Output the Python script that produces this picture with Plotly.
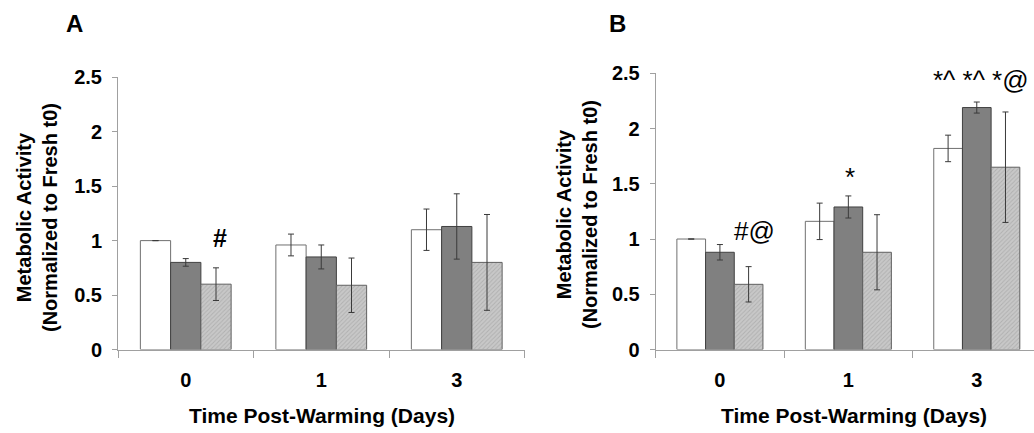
import plotly.graph_objects as go

# ---- data ----
days = ["0", "1", "3"]

a_white = [1.00, 0.96, 1.10]
a_white_err = [0.0, 0.10, 0.19]
a_dark = [0.80, 0.85, 1.13]
a_dark_err = [0.035, 0.11, 0.30]
a_light = [0.60, 0.59, 0.80]
a_light_err = [0.15, 0.25, 0.44]

b_white = [1.00, 1.16, 1.82]
b_white_err = [0.0, 0.165, 0.12]
b_dark = [0.88, 1.29, 2.19]
b_dark_err = [0.07, 0.10, 0.05]
b_light = [0.59, 0.88, 1.65]
b_light_err = [0.16, 0.34, 0.50]

y_ticks = [0, 0.5, 1, 1.5, 2, 2.5]
y_ticktext = ["0", "0.5", "1", "1.5", "2", "2.5"]

FONT = "Liberation Sans, Arial, sans-serif"
W, H = 1034, 433

def px_x(p):
    return p / W

def px_y(p):
    return 1 - p / H

err_style = dict(type="data", color="#3a3a3a", thickness=1, width=3, visible=True)

def add_panel(fig, xa, ya, white, we, dark, de, light, le):
    fig.add_trace(go.Bar(x=days, y=white, xaxis=xa, yaxis=ya,
                         marker=dict(color="white", line=dict(color="#707070", width=1)),
                         error_y=dict(array=we, **err_style), showlegend=False))
    fig.add_trace(go.Bar(x=days, y=dark, xaxis=xa, yaxis=ya,
                         marker=dict(color="#808080", line=dict(color="#404040", width=1)),
                         error_y=dict(array=de, **err_style), showlegend=False))
    fig.add_trace(go.Bar(x=days, y=light, xaxis=xa, yaxis=ya,
                         marker=dict(color="#c4c4c4", line=dict(color="#606060", width=1),
                                     pattern=dict(shape="/", bgcolor="#c8c8c8", fgcolor="#b0b0b0",
                                                  size=3, solidity=0.3)),
                         error_y=dict(array=le, **err_style), showlegend=False))

fig = go.Figure()
add_panel(fig, "x", "y", a_white, a_white_err, a_dark, a_dark_err, a_light, a_light_err)
add_panel(fig, "x2", "y2", b_white, b_white_err, b_dark, b_dark_err, b_light, b_light_err)

tickfont = dict(family=FONT, size=20, color="black", weight="bold")
xcommon = dict(type="category", showline=True, linecolor="#a0a0a0", linewidth=1,
               ticks="outside", ticklen=7, tickcolor="#a0a0a0", tickwidth=1,
               tickson="boundaries", showgrid=False, zeroline=False, automargin=False,
               tickfont=tickfont, ticklabelstandoff=12)
ycommon = dict(range=[0, 2.5], showline=True, linecolor="#a0a0a0", linewidth=1,
               ticks="outside", ticklen=5, tickcolor="#a0a0a0", tickwidth=1,
               tickvals=y_ticks, ticktext=y_ticktext, showgrid=False, zeroline=False,
               automargin=False, tickfont=tickfont, ticklabelstandoff=6)

fig.update_layout(
    template="none",
    font=dict(family=FONT, color="black"),
    width=W, height=H, autosize=False,
    margin=dict(l=0, r=0, t=0, b=0, pad=0, autoexpand=False),
    paper_bgcolor="white", plot_bgcolor="white",
    barmode="group", bargap=0.33, bargroupgap=0,
    showlegend=False,
    xaxis=dict(domain=[px_x(118), px_x(524.5)], range=[-0.5, 2.5], anchor="y", **xcommon),
    yaxis=dict(domain=[px_y(349.5), px_y(77.3)], anchor="x", **ycommon),
    xaxis2=dict(domain=[px_x(655.7), 1.0], range=[-0.5, 2.4455], anchor="y2", **xcommon),
    yaxis2=dict(domain=[px_y(349.5), px_y(73.3)], anchor="x2", **ycommon),
)

title_font = dict(family=FONT, size=20, color="black", weight="bold")
center = dict(xanchor="center", yanchor="middle", showarrow=False)
ann = []
# panel letters
ann.append(dict(text="A", x=px_x(74), y=px_y(23), xref="paper", yref="paper",
                font=dict(family=FONT, size=24, color="black", weight="bold"), **center))
ann.append(dict(text="B", x=px_x(617), y=px_y(23), xref="paper", yref="paper",
                font=dict(family=FONT, size=24, color="black", weight="bold"), **center))
# y titles
ytitle = "Metabolic Activity<br>(Normalized to Fresh t0)"
ann.append(dict(text=ytitle, x=px_x(37), y=px_y(218), xref="paper", yref="paper",
                textangle=-90, font=title_font, **center))
ann.append(dict(text=ytitle, x=px_x(577), y=px_y(215), xref="paper", yref="paper",
                textangle=-90, font=title_font, **center))
# x titles
xtitle = "Time Post-Warming (Days)"
ann.append(dict(text=xtitle, x=px_x(322), y=px_y(415), xref="paper", yref="paper",
                font=dict(family=FONT, size=21, color="black", weight="bold"), **center))
ann.append(dict(text=xtitle, x=px_x(854), y=px_y(415), xref="paper", yref="paper",
                font=dict(family=FONT, size=21, color="black", weight="bold"), **center))
# significance marks (x given as category index)
sig_font = dict(family=FONT, size=26, color="black")
ann.append(dict(text="#", x=days.index("0"), y=1.02, xref="x", yref="y", xshift=34,
                font=dict(family=FONT, size=25, color="black", weight="bold"), **center))
ann.append(dict(text="#@", x=days.index("0"), y=1.07, xref="x2", yref="y2", xshift=35,
                font=sig_font, **center))
ann.append(dict(text="*", x=days.index("1"), y=1.56, xref="x2", yref="y2", xshift=2,
                font=sig_font, **center))
ann.append(dict(text="*^ *^ *@", x=days.index("3"), y=2.44, xref="x2", yref="y2", xshift=4,
                font=sig_font, **center))
fig.update_layout(annotations=ann)

fig.write_html("out.html")
